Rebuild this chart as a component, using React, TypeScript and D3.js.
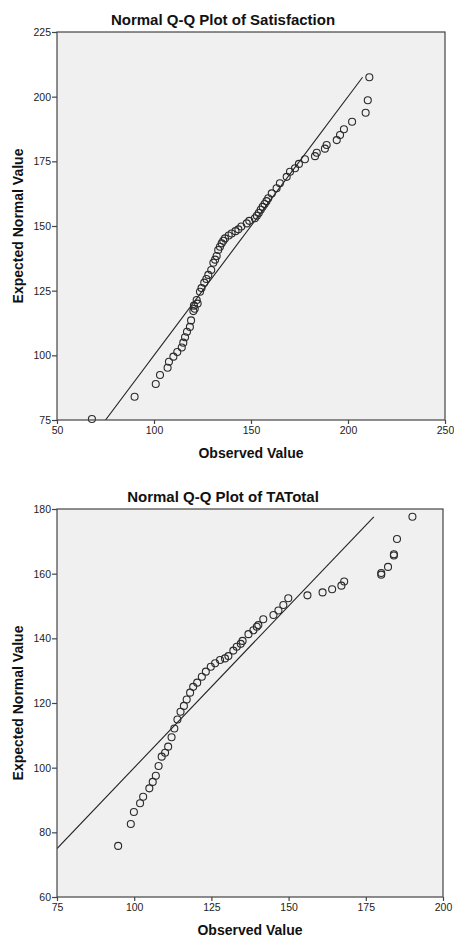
import React, { useEffect, useRef } from "react";
import * as d3 from "d3";

// Normal Q-Q Plot of Satisfaction
const satObserved = [
  68, 90, 100.9, 103.1, 107, 107.7, 110, 112, 114.3, 115.1, 116, 117, 118.5, 119.1,
  120.3, 120.6, 121, 122, 122.5, 123.7, 124.5, 125.9, 127, 128, 129.5, 130.6, 131.5,
  132.3, 133.1, 134, 134.9, 135.7, 136.6, 138.5, 140, 142, 143.5, 145, 147.8, 149.1,
  152, 153, 154, 155, 156, 157, 158, 158.9, 160.7, 163.2, 164.9, 168.4, 170.1, 172.7,
  174.7, 177.8, 183, 183.9, 188.1, 189, 194.2, 195.9, 197.9, 202.1, 209.1, 210.2, 211,
];
const satExpected = [
  75.4, 84, 88.9, 92.4, 95.2, 97.5, 99.5, 101.3, 103, 104.9, 107, 109.1, 111, 113.5,
  117.1, 119.2, 118, 121.4, 120, 124.6, 126, 128.1, 129.5, 131.1, 133, 135.8, 137,
  138.4, 140.7, 142, 143.3, 144.3, 145.2, 146.3, 147.1, 148, 148.7, 149.8, 151, 152,
  153, 154, 155, 156.3, 157.4, 158.5, 159.6, 160.7, 162.6, 164.6, 166.5, 169, 171, 172.3,
  174, 175.8, 177, 178.3, 179.9, 181.3, 183.2, 185.2, 187.4, 190.3, 193.8, 198.6, 207.5,
];
const satXTicks = [50, 100, 150, 200, 250];
const satYTicks = [75, 100, 125, 150, 175, 200, 225];

// Normal Q-Q Plot of TATotal
const taObserved = [
  94.8, 98.9, 99.9, 101.9, 102.9, 104.9, 106, 107, 107.9, 108.9, 110, 111, 112.1, 113,
  114, 115, 116.1, 117, 118.1, 119.1, 120.4, 121.9, 123.2, 124.8, 126.2, 127.8, 129.4,
  130.5, 132.1, 133.2, 134.5, 135.1, 137, 138.6, 139.7, 140.2, 141.8, 145.1, 146.7,
  148.3, 149.9, 156.1, 161, 164.1, 167.1, 168, 180, 180, 182.2, 184.1, 184.1, 185.1, 190.1,
];
const taExpected = [
  75.8, 82.6, 86.3, 89, 91, 93.6, 95.6, 97.5, 100.5, 103.4, 104.6, 106.5, 109.4, 112.1,
  114.9, 117.3, 119.1, 121.1, 123.2, 125, 126.3, 128.1, 129.7, 131.2, 132.3, 133.3, 133.8,
  134.5, 136.2, 137.4, 138.3, 139.2, 141.3, 142.5, 143.6, 144.1, 145.9, 147.2, 148.6,
  150.3, 152.4, 153.3, 154.2, 155.2, 156.3, 157.6, 159.7, 160.2, 162.1, 165.6, 166, 170.7, 177.6,
];
const taXTicks = [75, 100, 125, 150, 175, 200];
const taYTicks = [60, 80, 100, 120, 140, 160, 180];

const FONT = "'Liberation Sans', Arial, sans-serif";

type Plot = {
  title: string;
  observed: number[];
  expected: number[];
  xTicks: number[];
  yTicks: number[];
  top: number; // plot frame top
  left: number;
  width: number;
  height: number;
};

const plots: Plot[] = [
  {
    title: "Normal Q-Q Plot of Satisfaction",
    observed: satObserved,
    expected: satExpected,
    xTicks: satXTicks,
    yTicks: satYTicks,
    top: 32,
    left: 57,
    width: 388,
    height: 388,
  },
  {
    title: "Normal Q-Q Plot of TATotal",
    observed: taObserved,
    expected: taExpected,
    xTicks: taXTicks,
    yTicks: taYTicks,
    top: 509,
    left: 57,
    width: 386,
    height: 388,
  },
];

export default function App() {
  const ref = useRef<SVGSVGElement>(null);

  useEffect(() => {
    const svg = d3.select(ref.current);
    svg.selectAll("*").remove();

    plots.forEach((p) => {
      const x = d3
        .scaleLinear()
        .domain(d3.extent(p.xTicks) as [number, number])
        .range([p.left, p.left + p.width]);
      const y = d3
        .scaleLinear()
        .domain(d3.extent(p.yTicks) as [number, number])
        .range([p.top + p.height, p.top]);

      const g = svg.append("g");

      // title
      g.append("text")
        .attr("x", 223)
        .attr("y", p.top - 7)
        .attr("text-anchor", "middle")
        .attr("font-family", FONT)
        .attr("font-weight", "bold")
        .attr("font-size", 15)
        .attr("fill", "#111")
        .text(p.title);

      // plot background
      g.append("rect")
        .attr("x", p.left)
        .attr("y", p.top)
        .attr("width", p.width)
        .attr("height", p.height)
        .attr("fill", "#f0f0f0");

      // clip for the reference line
      const clipId = `clip-${p.top}`;
      g.append("clipPath")
        .attr("id", clipId)
        .append("rect")
        .attr("x", p.left)
        .attr("y", p.top)
        .attr("width", p.width)
        .attr("height", p.height);

      // reference line y = x, from the lower axis corner to the largest expected value
      const lo = Math.max(x.domain()[0], y.domain()[0]);
      const hi = d3.max(p.expected)!;
      g.append("line")
        .attr("clip-path", `url(#${clipId})`)
        .attr("x1", x(lo))
        .attr("y1", y(lo))
        .attr("x2", x(hi))
        .attr("y2", y(hi))
        .attr("stroke", "#222")
        .attr("stroke-width", 1.1);

      // points
      g.append("g")
        .selectAll("circle")
        .data(p.observed)
        .join("circle")
        .attr("cx", (d) => x(d))
        .attr("cy", (d, i) => y(p.expected[i]))
        .attr("r", 3.5)
        .attr("fill", "none")
        .attr("stroke", "#2a2a2a")
        .attr("stroke-width", 1.1);

      // frame
      g.append("rect")
        .attr("x", p.left)
        .attr("y", p.top)
        .attr("width", p.width)
        .attr("height", p.height)
        .attr("fill", "none")
        .attr("stroke", "#444")
        .attr("stroke-width", 1.2);

      // axes
      const yAxis = g
        .append("g")
        .attr("transform", `translate(${p.left},0)`)
        .call(d3.axisLeft(y).tickValues(p.yTicks).tickSize(5).tickPadding(1));
      const xAxis = g
        .append("g")
        .attr("transform", `translate(0,${p.top + p.height})`)
        .call(d3.axisBottom(x).tickValues(p.xTicks).tickSize(4).tickPadding(3));
      [xAxis, yAxis].forEach((a) => {
        a.select(".domain").remove();
        a.selectAll("line").attr("stroke", "#444").attr("stroke-width", 1.2);
        a.selectAll("text")
          .attr("font-family", FONT)
          .attr("font-size", 10.5)
          .attr("fill", "#222");
      });

      // axis titles
      g.append("text")
        .attr("x", p.left + p.width / 2)
        .attr("y", p.top + p.height + 38)
        .attr("text-anchor", "middle")
        .attr("font-family", FONT)
        .attr("font-weight", "bold")
        .attr("font-size", 14)
        .attr("fill", "#111")
        .text("Observed Value");

      g.append("text")
        .attr("transform", `translate(23,${p.top + p.height / 2}) rotate(-90)`)
        .attr("text-anchor", "middle")
        .attr("font-family", FONT)
        .attr("font-weight", "bold")
        .attr("font-size", 14)
        .attr("fill", "#111")
        .text("Expected Normal Value");
    });
  }, []);

  return (
    <div style={{ position: "absolute", left: 0, top: 0, background: "#fff" }}>
      <svg ref={ref} width={454} height={939} style={{ display: "block" }}></svg>
    </div>
  );
}
